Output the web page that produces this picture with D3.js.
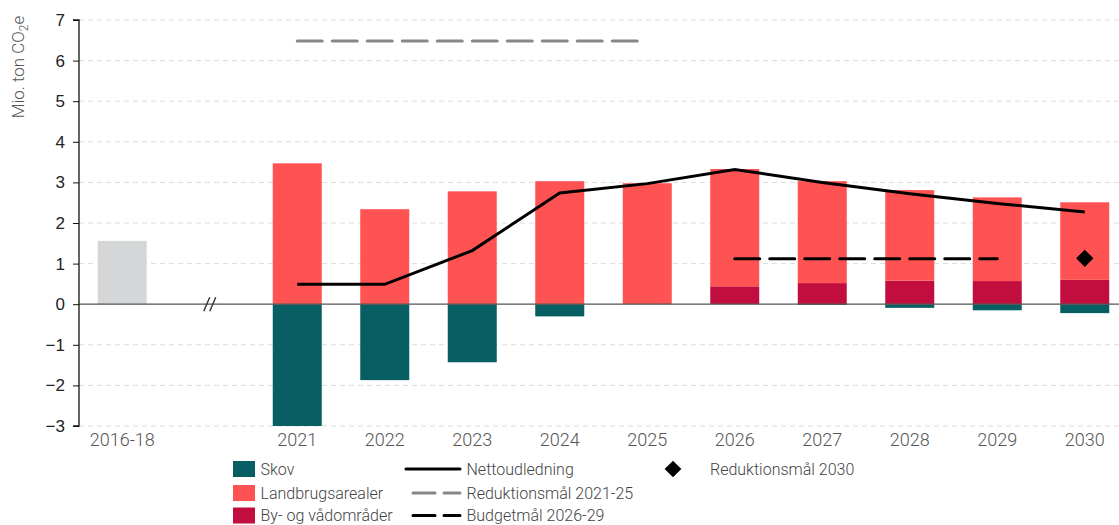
<!DOCTYPE html>
<html><head><meta charset="utf-8">
<script src="https://cdn.jsdelivr.net/npm/d3@7"></script>
<style>body{margin:0;background:#fff;} svg{display:block;}</style>
</head><body>
<svg id="c" width="1119" height="525"></svg>
<script>
const categories = ["2016-18","gap","2021","2022","2023","2024","2025","2026","2027","2028","2029","2030"];
const historic = [1.56,0,0,0,0,0,0,0,0,0,0,0];
const skov = [0,0,-3.0,-1.87,-1.43,-0.30,0,0,-0.02,-0.09,-0.15,-0.22];
const landbrug = [0,0,3.47,2.34,2.78,3.03,2.98,2.89,2.51,2.23,2.06,1.91];
const byvaad = [0,0,0,0,0,0,0,0.44,0.52,0.58,0.57,0.60];
const netYears = ["2021","2022","2023","2024","2025","2026","2027","2028","2029","2030"];
const netto = [0.49,0.49,1.32,2.74,2.97,3.32,3.0,2.72,2.48,2.27];
const red2125Years = ["2021","2025"];
const red2125 = [6.48,6.48];
const budgetYears = ["2026","2029"];
const budget = [1.12,1.12];
const red2030Year = "2030";
const red2030 = 1.13;
const yTicks = [-3,-2,-1,0,1,2,3,4,5,6,7];
const tickLabels = ["2016-18","","2021","2022","2023","2024","2025","2026","2027","2028","2029","2030"];

const colors = {skov:"#075E63", landbrug:"#FF5252", byvaad:"#C20E3E", hist:"#D5D6D8"};
const svg = d3.select("#c");
const x = d3.scaleBand().domain(categories).range([78.5,1128.5]).paddingInner(0.44).paddingOuter(0.22);
const y = d3.scaleLinear().domain([-3,7]).range([426,20]);
const cx = c => x(c) + x.bandwidth()/2;

// gridlines
svg.append("g").selectAll("line").data(yTicks.filter(t=>t!==0)).join("line")
  .attr("x1",79).attr("x2",1119).attr("y1",d=>y(d)).attr("y2",d=>y(d))
  .attr("stroke","#dcdcdc").attr("stroke-width",1).attr("stroke-dasharray","5,4");

// bars
const barG = svg.append("g");
function bars(vals, base, color){
  barG.selectAll(null).data(categories.map((c,i)=>({c, v:vals[i], b:base?base[i]:0}))).join("rect")
    .filter(d=>d.v!==0)
    .attr("x",d=>x(d.c)).attr("width",x.bandwidth())
    .attr("y",d=>y(Math.max(d.b,d.b+d.v))).attr("height",d=>Math.abs(y(d.b)-y(d.b+d.v)))
    .attr("fill",color);
}
bars(historic,null,colors.hist);
bars(skov,null,colors.skov);
bars(byvaad,null,colors.byvaad);
bars(landbrug,byvaad,colors.landbrug);

// zero line
svg.append("line").attr("x1",79).attr("x2",1119).attr("y1",y(0)).attr("y2",y(0))
  .attr("stroke","#555").attr("stroke-width",1.3);

// break marker
const bx = cx("gap");
[-3,3].forEach(o=>{
  svg.append("line").attr("x1",bx+o-3).attr("x2",bx+o+3).attr("y1",y(0)+7).attr("y2",y(0)-7)
   .attr("stroke","#333").attr("stroke-width",1.4);
});

// y axis
const yAxis = d3.axisLeft(y).tickValues(yTicks).tickSize(6).tickPadding(8).tickFormat(d3.format("d"));
const ya = svg.append("g").attr("transform","translate(79,0)").call(yAxis);
ya.select(".domain").attr("stroke","#111").attr("stroke-width",1.3).attr("d","M-6,"+y(7)+"H0V"+y(-3)+"H-6");
ya.selectAll(".tick line").attr("stroke","#111");
ya.selectAll("text").attr("font-family","Liberation Sans, Arial, sans-serif").attr("font-size",17).attr("fill","#222");

// x axis labels
const xa = svg.append("g").attr("transform","translate(0,426)").call(d3.axisBottom(x).tickSize(0).tickPadding(7).tickFormat((d,i)=>tickLabels[i]));
xa.select(".domain").remove();
xa.selectAll("text").attr("font-family","Roboto, sans-serif").attr("font-weight",300).attr("font-size",18).attr("fill","#555");

// net line
svg.append("path").datum(netYears.map((c,i)=>[cx(c),y(netto[i])]))
  .attr("d",d3.line()).attr("fill","none").attr("stroke","#000").attr("stroke-width",3);

// reduction target 2021-25
svg.append("path").datum(red2125Years.map((c,i)=>[cx(c),y(red2125[i])]))
  .attr("d",d3.line()).attr("fill","none").attr("stroke","#888").attr("stroke-width",3)
  .attr("stroke-dasharray","25,10").attr("stroke-linecap","round");
// budget 2026-29
svg.append("path").datum(budgetYears.map((c,i)=>[cx(c),y(budget[i])]))
  .attr("d",d3.line()).attr("fill","none").attr("stroke","#000").attr("stroke-width",3)
  .attr("stroke-dasharray","25,10").attr("stroke-linecap","round");
// diamond
svg.append("path").attr("d",d3.symbol(d3.symbolSquare,150)())
  .attr("transform",`translate(${cx(red2030Year)},${y(red2030)}) rotate(45)`).attr("fill","#000");

// y label
svg.append("text").attr("transform","translate(24,67) rotate(-90)").attr("text-anchor","middle")
  .attr("font-family","Roboto, sans-serif").attr("font-weight",300).attr("font-size",17).attr("fill","#555")
  .html('Mio. ton CO<tspan font-size="12" dy="4">2</tspan><tspan dy="-4">e</tspan>');

// legend
const lg = svg.append("g").attr("font-family","Roboto, sans-serif").attr("font-weight",300).attr("font-size",16).attr("fill","#444");
const rows = [469,493,515.5];
[["Skov",colors.skov],["Landbrugsarealer",colors.landbrug],["By- og vådområder",colors.byvaad]].forEach((d,i)=>{
  lg.append("rect").attr("x",233).attr("y",rows[i]-8).attr("width",22).attr("height",16).attr("fill",d[1]);
  lg.append("text").attr("x",260.5).attr("y",rows[i]).attr("dy","0.35em").text(d[0]);
});
const lineItems = [["Nettoudledning","#000",null],["Reduktionsmål 2021-25","#888","22,9"],["Budgetmål 2026-29","#000","22,9"]];
lineItems.forEach((d,i)=>{
  lg.append("line").attr("x1",d[2]?413:406).attr("x2",460).attr("y1",rows[i]).attr("y2",rows[i])
    .attr("stroke",d[1]).attr("stroke-width",3).attr("stroke-dasharray",d[2]).attr("stroke-linecap","round");
  lg.append("text").attr("x",466.5).attr("y",rows[i]).attr("dy","0.35em").text(d[0]);
});
lg.append("path").attr("d",d3.symbol(d3.symbolSquare,140)())
  .attr("transform",`translate(673,${rows[0]}) rotate(45)`).attr("fill","#000");
lg.append("text").attr("x",710).attr("y",rows[0]).attr("dy","0.35em").text("Reduktionsmål 2030");
</script>
</body></html>
